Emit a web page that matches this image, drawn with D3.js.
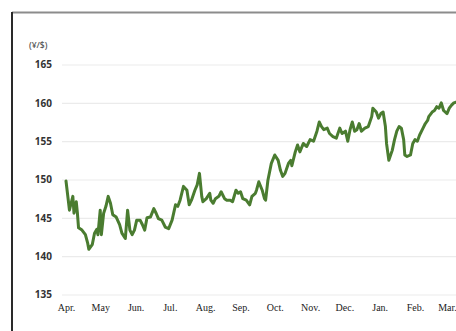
<!DOCTYPE html>
<html>
<head>
<meta charset="utf-8">
<script src="https://cdn.jsdelivr.net/npm/d3@7/dist/d3.min.js"></script>
<style>
  html, body { margin: 0; padding: 0; background: #fff; }
  svg { display: block; }
</style>
</head>
<body>
<svg id="chart" width="456" height="331"></svg>
<script>
// Yen per dollar, fiscal year April -> March
const monthLabels = ["Apr.", "May", "Jun.", "Jul.", "Aug.", "Sep.", "Oct.", "Nov.", "Dec.", "Jan.", "Feb.", "Mar."];
const yTicks = [135, 140, 145, 150, 155, 160, 165];
const unitLabel = "(¥/$)";

// days elapsed since April 1
const dayOffsets = [
  0, 2, 3, 6, 7, 9, 10, 11, 14, 17, 19, 20, 23, 25, 27, 28, 30, 31, 33, 35,
  37, 39, 41, 44, 47, 49, 52, 54, 56, 58, 60, 62, 65, 67, 69, 71, 74, 77, 79, 81,
  84, 87, 90, 93, 96, 98, 100, 103, 106, 108, 110, 113, 115, 117, 119, 120, 123, 126, 127, 129,
  131, 134, 136, 139, 141, 144, 146, 149, 151, 153, 155, 158, 161, 163, 166, 167, 169, 172, 174, 175,
  177, 180, 183, 186, 188, 190, 192, 195, 197, 198, 201, 203, 205, 208, 211, 214, 217, 220, 222, 224,
  226, 229, 231, 234, 237, 240, 242, 245, 247, 249, 251, 253, 255, 257, 259, 262, 265, 268, 269, 272,
  274, 276, 278, 280, 281, 283, 286, 288, 290, 292, 294, 296, 297, 299, 302, 304, 306, 308, 310, 313,
  315, 317, 318, 321, 323, 325, 327, 329, 331, 334, 336, 338, 340, 342
];
const rates = [
  149.8, 147.3, 146.0, 147.8, 145.6, 147.1, 145.6, 143.7, 143.4, 142.8, 141.7, 140.9, 141.5, 143.0, 143.5, 142.8, 146.0, 142.8, 145.6, 146.5,
  147.8, 146.9, 145.4, 145.1, 144.1, 143.0, 142.3, 146.0, 143.4, 142.8, 143.4, 144.7, 144.7, 144.1, 143.4, 145.0, 145.1, 146.2, 145.6, 144.9,
  144.7, 143.8, 143.6, 144.7, 146.7, 146.5, 147.3, 149.1, 148.6, 146.7, 147.3, 148.6, 149.3, 150.8, 147.8, 147.1, 147.5, 148.2, 147.3, 146.9,
  147.5, 147.8, 148.4, 147.5, 147.3, 147.3, 147.1, 148.6, 148.2, 148.4, 147.5, 147.3, 146.7, 147.8, 148.2, 148.6, 149.7, 148.6, 147.5, 147.3,
  149.9, 152.1, 153.2, 152.5, 151.2, 150.4, 150.8, 152.1, 152.5, 151.8, 153.6, 154.5, 153.6, 154.7, 154.3, 155.2, 155.0, 156.3, 157.5, 156.9,
  156.5, 156.7, 156.0, 155.6, 155.4, 156.7, 156.0, 156.3, 155.0, 156.5, 157.5, 156.3, 156.5, 157.3, 156.3, 156.7, 156.9, 158.2, 159.3, 158.8,
  158.0, 158.6, 158.8, 156.9, 154.7, 152.5, 153.8, 155.2, 156.3, 156.9, 156.7, 155.2, 153.2, 153.0, 153.2, 154.7, 155.2, 155.0, 155.8, 156.7,
  157.3, 157.7, 158.2, 158.8, 159.0, 159.5, 159.3, 160.0, 159.0, 158.6, 159.3, 159.7, 160.0, 160.1
];

const startDate = new Date(2024, 3, 1);
const monthStarts = monthLabels.map((_, i) => d3.timeMonth.offset(startDate, i));
const series = dayOffsets.map((d, i) => ({ date: d3.timeDay.offset(startDate, d), value: rates[i] }));

const svg = d3.select("#chart");
const W = 456, H = 331;

const x = d3.scaleTime()
  .domain([monthStarts[0], monthStarts[monthStarts.length - 1]])
  .range([66, 447]);
const y = d3.scaleLinear()
  .domain([135, 165])
  .range([294.5, 64.5]);

// panel frame
svg.append("line")
  .attr("x1", 12).attr("x2", W).attr("y1", 12.5).attr("y2", 12.5)
  .attr("stroke", "#8c8c8c").attr("stroke-width", 2);
svg.append("line")
  .attr("x1", 12).attr("x2", 12).attr("y1", 12).attr("y2", H)
  .attr("stroke", "#2a2a2a").attr("stroke-width", 2);

// horizontal gridlines + value labels
const yAxis = d3.axisLeft(y).tickValues(yTicks).tickSize(-(W - 62)).tickPadding(10);
const gy = svg.append("g").attr("transform", "translate(62,0)").call(yAxis);
gy.select(".domain").remove();
gy.selectAll(".tick line").attr("stroke", "#ebebeb").attr("stroke-width", 1.2);
gy.selectAll(".tick text")
  .attr("fill", "#333")
  .style("font-family", "'Open Sans', 'DejaVu Sans', sans-serif")
  .style("font-weight", "700")
  .style("font-size", "10px");

svg.append("text")
  .attr("x", 29).attr("y", 48)
  .attr("fill", "#555")
  .style("font-family", "'Open Sans', 'DejaVu Sans', sans-serif")
  .style("font-weight", "600")
  .style("font-size", "8.5px")
  .text(unitLabel);

// month labels
const xAxis = d3.axisBottom(x).tickValues(monthStarts).tickFormat((d, i) => monthLabels[i]).tickSize(0).tickPadding(0);
const gx = svg.append("g").attr("transform", "translate(0,304)").call(xAxis);
gx.select(".domain").remove();
gx.selectAll(".tick text")
  .attr("fill", "#222")
  .style("font-family", "'Liberation Serif', 'Times New Roman', serif")
  .style("font-size", "10px");

// exchange-rate line
const line = d3.line()
  .x(d => x(d.date))
  .y(d => y(d.value))
  .curve(d3.curveLinear);

svg.append("path")
  .datum(series)
  .attr("fill", "none")
  .attr("stroke", "#4a7c30")
  .attr("stroke-width", 3)
  .attr("stroke-linejoin", "round")
  .attr("stroke-linecap", "round")
  .attr("d", line);
</script>
</body>
</html>
